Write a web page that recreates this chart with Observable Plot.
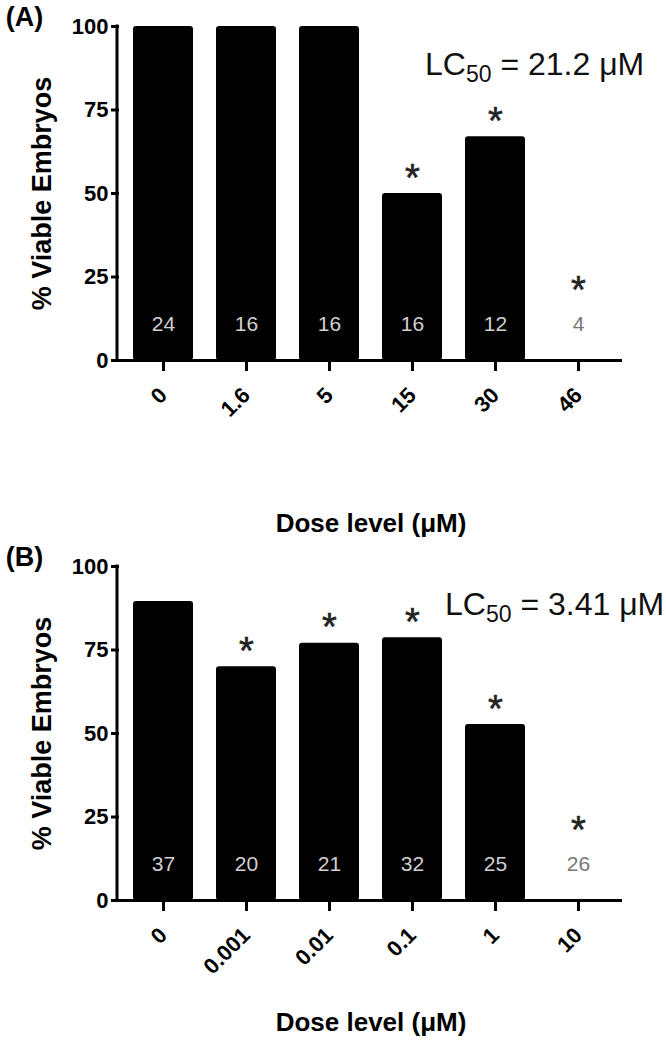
<!DOCTYPE html>
<html>
<head>
<meta charset="utf-8">
<script src="https://cdn.jsdelivr.net/npm/d3@7"></script>
<script src="https://cdn.jsdelivr.net/npm/@observablehq/plot@0.6"></script>
<style>
  html, body { margin: 0; padding: 0; background: white; }
  #chart svg { display: block; }
</style>
</head>
<body>
<div id="chart"></div>
<script>
// ---- Data ----
const dosesA = ["0", "1.6", "5", "15", "30", "46"];
const viableA = [100, 100, 100, 50, 67, 0];
const nA = [24, 16, 16, 16, 12, 4];
const sigA = [false, false, false, true, true, true];

const dosesB = ["0", "0.001", "0.01", "0.1", "1", "10"];
const viableB = [89.5, 70, 77, 78.7, 52.7, 0];
const nB = [37, 20, 21, 32, 25, 26];
const sigB = [false, true, true, true, true, true];

const yTicks = [0, 25, 50, 75, 100];
const lcA = "21.2";
const lcB = "3.41";
const yTitle = "% Viable Embryos";
const xTitle = "Dose level (\u03BCM)";

const FONT = "'Liberation Sans', Arial, Helvetica, sans-serif";

function panel(letter, doses, viable, n, sig, lc, height, marginBottom, lcX, titleDy) {
  const data = doses.map((d, i) => ({dose: d, v: viable[i], n: n[i], sig: sig[i]}));
  const chart = Plot.plot({
    width: 666,
    height,
    marginTop: 26,
    marginBottom,
    marginLeft: 119,
    marginRight: 44,
    style: {fontFamily: FONT, background: "white", color: "black", overflow: "visible"},
    x: {domain: doses, paddingInner: 0.28, paddingOuter: 0.14, label: null},
    y: {domain: [0, 100], label: null},
    marks: [
      Plot.barY(data, {x: "dose", y: "v", fill: "black", rx: 3}),
      Plot.ruleY([0], {stroke: "black", strokeWidth: 3}),
      Plot.axisY({ticks: yTicks, tickSize: 8, tickPadding: 3, fontSize: 22, fontWeight: "bold",
                  stroke: "black", strokeWidth: 3, label: null}),
      Plot.axisX({tickSize: 11, tickRotate: -45, tickPadding: 20, fontSize: 22, fontWeight: "bold",
                  stroke: "black", strokeWidth: 3, label: null}),
      Plot.text(data.filter(d => d.v > 0), {x: "dose", y: 0, text: d => String(d.n), dy: -36,
                  fill: "#d0d0d0", fontSize: 21}),
      Plot.text(data.filter(d => d.v === 0), {x: "dose", y: 0, text: d => String(d.n), dy: -36,
                  fill: "#777", fontSize: 21}),
      Plot.text(data.filter(d => d.sig && d.v > 0), {x: "dose", y: "v", text: () => "*", dy: -15,
                  fontSize: 38, fill: "#222", stroke: "#222", strokeWidth: 0.6}),
      Plot.text(data.filter(d => d.sig && d.v === 0), {x: "dose", y: "v", text: () => "*", dy: -70,
                  fontSize: 38, fill: "#222", stroke: "#222", strokeWidth: 0.6}),
      Plot.text([yTitle], {frameAnchor: "left", rotate: -90, dx: -77, fontSize: 27, fontWeight: "bold",
                  textAnchor: "middle", lineAnchor: "middle"}),
      Plot.text([xTitle], {frameAnchor: "bottom", dy: titleDy, fontSize: 26, fontWeight: "bold",
                  lineAnchor: "middle"}),
      Plot.text([`(${letter})`], {frameAnchor: "top-left", dx: -95, dy: -9, fontSize: 27, fontWeight: "bold",
                  textAnchor: "middle", lineAnchor: "middle"})
    ]
  });

  const svg = d3.select(chart);
  const y = chart.scale("y");
  // y-axis line
  svg.append("line")
    .attr("x1", 117).attr("x2", 117)
    .attr("y1", y.apply(100) - 1.5).attr("y2", y.apply(0) + 1.5)
    .attr("stroke", "black").attr("stroke-width", 3);
  // LC50 annotation with subscript
  const t = svg.append("text")
    .attr("x", lcX).attr("y", 75)
    .attr("text-anchor", "start")
    .attr("font-family", FONT).attr("font-size", 32).attr("fill", "#111");
  t.append("tspan").text("LC");
  t.append("tspan").attr("font-size", 23).attr("dy", 7).text("50");
  t.append("tspan").attr("dy", -7).text(" = " + lc + " \u03BCM");
  return chart;
}

const root = document.getElementById("chart");
root.appendChild(panel("A", dosesA, viableA, nA, sigA, lcA, 540, 180, 425, 163));
root.appendChild(panel("B", dosesB, viableB, nB, sigB, lcB, 510, 150, 445, 122));
</script>
</body>
</html>
